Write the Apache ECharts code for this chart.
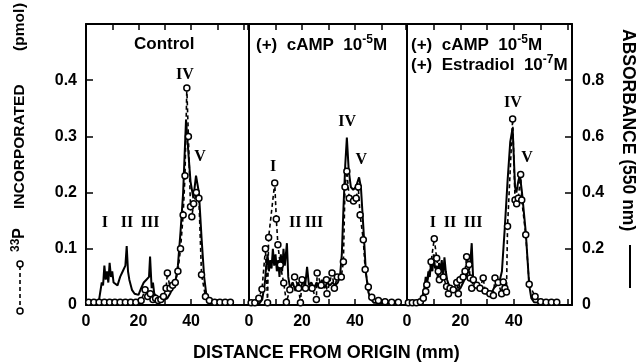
<!DOCTYPE html>
<html>
<head>
<meta charset="utf-8">
<script src="https://cdn.jsdelivr.net/npm/echarts@6/dist/echarts.min.js"></script>
<style>html,body{margin:0;padding:0;background:#fff}#c{width:636px;height:364px}</style>
</head>
<body>
<div id="c"></div>
<script>
// ---- data: [distance (mm), value] ----
// 33P incorporated (pmol), dashed with circles
const p33Control = [[1,0.005],[3,0.005],[5,0.005],[7,0.005],[9,0.005],[11,0.005],[13,0.005],[15,0.005],[17,0.005],[19,0.005],[21,0.008],[22.5,0.027],[23.5,0.015],[24.5,0.02],[25.5,0.01],[26.5,0.012],[27.5,0.008],[28.5,0.01],[29.5,0.015],[30.5,0.03],[31,0.057],[32,0.03],[33,0.035],[34,0.04],[35,0.06],[36,0.1],[37,0.16],[37.7,0.23],[38.4,0.386],[39,0.3],[39.8,0.175],[40.3,0.157],[41,0.18],[42,0.2],[43,0.19],[44,0.054],[45.5,0.015],[47,0.008],[49,0.005],[51,0.005],[53,0.005],[55,0.005]];
const p33Camp = [[0.8,0.004],[2.2,0.004],[3.7,0.012],[4.9,0.028],[6.2,0.1],[7.0,0.004],[7.4,0.12],[9.7,0.217],[10.3,0.153],[10.9,0.107],[11.8,0.071],[13.1,0.039],[14.1,0.005],[15.4,0.027],[17.2,0.05],[18.7,0.03],[19.4,0.004],[20,0.045],[21.3,0.03],[23.8,0.03],[25.4,0.01],[25.7,0.057],[27.2,0.035],[29.2,0.045],[29.4,0.02],[31.3,0.057],[32.2,0.03],[33.3,0.05],[34.8,0.05],[35.6,0.077],[36.2,0.21],[36.9,0.238],[37.8,0.19],[39.4,0.185],[40.4,0.19],[41.2,0.21],[41.9,0.16],[43.1,0.116],[43.8,0.063],[45,0.032],[46.3,0.014],[48.8,0.008],[51.3,0.006],[53.8,0.005],[56.3,0.005]];
const p33CampE2 = [[0.5,0.004],[2,0.004],[3.5,0.004],[5,0.006],[6.1,0.012],[7.0,0.024],[7.4,0.036],[9.0,0.077],[10.2,0.118],[11.1,0.083],[11.7,0.06],[12.1,0.045],[13.6,0.05],[14.8,0.033],[15.5,0.02],[16.1,0.03],[17.3,0.027],[18.6,0.04],[19.2,0.02],[19.8,0.045],[21,0.05],[21.7,0.06],[22.3,0.086],[23.2,0.072],[23.6,0.048],[24.2,0.03],[24.8,0.045],[26.1,0.035],[27.3,0.03],[28.5,0.048],[29.2,0.025],[31,0.02],[32.3,0.017],[32.9,0.048],[34.1,0.04],[35.4,0.02],[36,0.041],[36.6,0.03],[37.2,0.023],[37.6,0.14],[39.5,0.331],[40.4,0.187],[41,0.18],[41.6,0.19],[42.5,0.232],[42.9,0.187],[44.4,0.125],[45.7,0.037],[47.9,0.015],[50,0.006],[52,0.005],[54,0.005],[56,0.005]];
// absorbance (550 nm), solid line
const absControl = [[0,0.006],[4,0.006],[5,0.02],[6,0.08],[6.5,0.07],[7,0.14],[7.5,0.09],[8,0.12],[8.5,0.08],[9,0.15],[9.5,0.1],[10,0.12],[10.5,0.08],[11,0.08],[12,0.07],[13,0.1],[14,0.12],[15,0.14],[15.5,0.21],[16,0.12],[16.5,0.09],[17.5,0.054],[18.5,0.04],[20,0.036],[21,0.06],[22,0.08],[23,0.09],[23.5,0.09],[24,0.1],[24.4,0.172],[25,0.06],[25.5,0.08],[26,0.04],[27,0.03],[28,0.02],[30,0.02],[31,0.024],[32,0.04],[33,0.06],[34,0.08],[35,0.14],[36,0.26],[37,0.4],[37.5,0.52],[38.1,0.66],[39,0.54],[39.8,0.44],[40.9,0.38],[41.9,0.46],[43,0.4],[44,0.24],[45,0.1],[46,0.024],[47,0.008],[56,0.006]];
const absCamp = [[0,0.006],[4,0.006],[5,0.02],[6,0.08],[6.5,0.14],[7,0.18],[7.5,0.12],[8,0.16],[8.5,0.13],[9,0.2],[9.5,0.14],[10,0.18],[10.5,0.12],[11,0.16],[11.5,0.1],[12,0.18],[12.5,0.12],[13,0.2],[13.5,0.14],[14.3,0.22],[14.8,0.1],[15.5,0.06],[16.5,0.08],[17.5,0.05],[18.5,0.08],[19.5,0.06],[20.5,0.09],[21.2,0.07],[21.9,0.136],[22.6,0.07],[23.5,0.08],[24.5,0.06],[25.5,0.08],[26.5,0.06],[27.5,0.09],[28.5,0.06],[29.5,0.08],[30.5,0.07],[31.5,0.08],[32.5,0.07],[33.5,0.08],[34.3,0.1],[35,0.18],[35.6,0.34],[36.3,0.5],[36.9,0.596],[37.6,0.48],[38.4,0.42],[39.3,0.41],[40.3,0.42],[41.5,0.454],[42.2,0.42],[43.1,0.28],[44.1,0.114],[45,0.046],[46,0.02],[47,0.008],[56,0.006]];
const absCampE2 = [[0,0.006],[5,0.006],[5.5,0.02],[6.5,0.06],[7,0.1],[7.5,0.08],[8,0.12],[8.5,0.1],[9,0.15],[9.5,0.12],[10,0.18],[10.5,0.13],[11,0.14],[11.5,0.1],[12,0.15],[12.5,0.12],[13,0.16],[13.5,0.1],[14,0.17],[14.5,0.12],[15,0.09],[16,0.06],[17,0.05],[18,0.06],[19,0.05],[20,0.06],[21,0.08],[22,0.1],[23,0.12],[23.6,0.14],[24.2,0.22],[24.7,0.1],[25.5,0.08],[26.5,0.06],[27.5,0.05],[28.5,0.06],[29.5,0.04],[30.5,0.05],[31.5,0.04],[32.5,0.06],[33.5,0.07],[34.5,0.08],[35.5,0.12],[36.6,0.28],[37.6,0.44],[38.6,0.58],[39.5,0.63],[40.4,0.42],[40.9,0.4],[41.6,0.44],[42.2,0.464],[43,0.4],[44.4,0.26],[45.7,0.07],[46.5,0.024],[47.5,0.01],[56,0.006]];
// peak labels: [name, distance, 33P value]
const peaksControl = [['I',7.2,0.146],['II',15.6,0.146],['III',24.4,0.146],['IV',37.7,0.41],['V',43.4,0.264]];
const peaksCamp = [['I',9.1,0.246],['II',17.4,0.146],['III',24.5,0.146],['IV',37,0.325],['V',42.3,0.259]];
const peaksCampE2 = [['I',9.7,0.146],['II',16.1,0.146],['III',24.7,0.146],['IV',39.6,0.36],['V',44.9,0.262]];
const xTicks = [0,20,40];
const leftTicks = [0,0.1,0.2,0.3,0.4];
const rightTicks = [0,0.2,0.4,0.6,0.8];

const panels = [
  {left:86, width:162, max:61.7, p33:p33Control, abs:absControl, peaks:peaksControl},
  {left:249, width:157, max:59.2, p33:p33Camp, abs:absCamp, peaks:peaksCamp},
  {left:407, width:165, max:61.7, p33:p33CampE2, abs:absCampE2, peaks:peaksCampE2}
];
const FONT = "'Liberation Sans', Arial, sans-serif";
const SERIF = "'Liberation Serif', 'Times New Roman', serif";
const fmtNum = v => { const r = Math.round(v*10)/10; return r === 0 ? '0' : r.toFixed(1); };

const grid = [], xAxis = [], yAxis = [], series = [];
panels.forEach((p, i) => {
  grid.push({left:p.left, width:p.width, top:24, height:281});
  const axLine = {show:true, onZero:false, lineStyle:{color:'#000', width:2}};
  xAxis.push({type:'value', gridIndex:i, position:'bottom', min:0, max:p.max, interval:10,
    axisLine:axLine, splitLine:{show:false},
    axisTick:{show:true, inside:true, length:6, lineStyle:{color:'#000', width:1.5}},
    axisLabel:{show:true, margin:9, color:'#000', fontFamily:FONT, fontWeight:'bold', fontSize:16,
      formatter: v => xTicks.indexOf(Math.round(v)) >= 0 ? String(Math.round(v)) : '', showMaxLabel:false}});
  xAxis.push({type:'value', gridIndex:i, position:'top', min:0, max:p.max, interval:10,
    axisLine:axLine, splitLine:{show:false},
    axisTick:{show:true, inside:true, length:6, lineStyle:{color:'#000', width:1.5}},
    axisLabel:{show:false}});
  yAxis.push({type:'value', gridIndex:i, position:'left', min:0, max:0.5, interval:0.1,
    axisLine:axLine, splitLine:{show:false},
    axisTick:{show:i===0, inside:true, length:7, lineStyle:{color:'#000', width:1.5}},
    axisLabel:{show:i===0, margin:9, color:'#000', fontFamily:FONT, fontWeight:'bold', fontSize:16,
      formatter: v => leftTicks.some(t => Math.abs(t-v) < 1e-6) ? fmtNum(v) : ''}});
  yAxis.push({type:'value', gridIndex:i, position:'right', min:0, max:1.0, interval:0.2,
    show:i===2, axisLine:axLine, splitLine:{show:false},
    axisTick:{show:true, inside:true, length:7, lineStyle:{color:'#000', width:1.5}},
    axisLabel:{show:true, margin:10, color:'#000', fontFamily:FONT, fontWeight:'bold', fontSize:16,
      formatter: v => rightTicks.some(t => Math.abs(t-v) < 1e-6) ? fmtNum(v) : ''}});
  series.push({type:'line', name:'abs'+i, xAxisIndex:2*i, yAxisIndex:2*i+1, data:p.abs,
    showSymbol:false, symbol:'none', clip:false, z:2,
    lineStyle:{color:'#000', width:2}});
  series.push({type:'line', name:'p33'+i, xAxisIndex:2*i, yAxisIndex:2*i, data:p.p33,
    symbol:'circle', symbolSize:6, clip:false, z:3,
    lineStyle:{color:'#000', width:1.6, type:[4,3]},
    itemStyle:{color:'#fff', borderColor:'#000', borderWidth:1.5},
    markPoint:{symbol:'rect', symbolSize:1, itemStyle:{color:'rgba(0,0,0,0)'},
      label:{show:true, position:'inside', formatter:'{b}', color:'#000', fontFamily:SERIF, fontWeight:'bold', fontSize:16},
      data:p.peaks.map(k => ({name:k[0], coord:[k[1], k[2]]}))}});
});

const supRich = {
  a:{fontFamily:FONT, fontWeight:'bold', fontSize:17, color:'#000', lineHeight:22},
  s:{fontFamily:FONT, fontWeight:'bold', fontSize:12, color:'#000', verticalAlign:'top', lineHeight:22}
};
const vText = (x, y, text, size) => ({type:'text', x, y, rotation:Math.PI/2,
  style:{text, align:'left', verticalAlign:'middle', fontFamily:FONT, fontWeight:'bold', fontSize:size, fill:'#000'}});
const graphic = [
  {type:'text', left:134, top:36, style:{text:'Control', fontFamily:FONT, fontWeight:'bold', fontSize:17, fill:'#000'}},
  {type:'text', left:256, top:34, style:{text:'{a|(+)  cAMP  10}{s|-5}{a|M}', rich:supRich}},
  {type:'text', left:411, top:34, style:{text:'{a|(+)  cAMP  10}{s|-5}{a|M}', rich:supRich}},
  {type:'text', left:411, top:54, style:{text:'{a|(+)  Estradiol  10}{s|-7}{a|M}', rich:supRich}},
  {type:'text', left:193, top:344, style:{text:'DISTANCE FROM ORIGIN (mm)', fontFamily:FONT, fontWeight:'bold', fontSize:18, fill:'#000'}},
  {type:'text', x:20, y:252, rotation:Math.PI/2, style:{text:'{s|33}{a|P}', align:'left', verticalAlign:'middle',
    rich:{a:{fontFamily:FONT, fontWeight:'bold', fontSize:16, color:'#000', lineHeight:20},
          s:{fontFamily:FONT, fontWeight:'bold', fontSize:12, color:'#000', verticalAlign:'top', lineHeight:20}}}},
  vText(20, 209, 'INCORPORATED', 15.5),
  vText(20, 51, '(pmol', 15.5),
  vText(20, 8, ')', 15.5),
  {type:'text', x:628, y:29, rotation:-Math.PI/2, style:{text:'ABSORBANCE (550 nm)', align:'left', verticalAlign:'middle',
    fontFamily:FONT, fontWeight:'bold', fontSize:17.5, fill:'#000'}},
  {type:'line', shape:{x1:20, y1:266, x2:20, y2:309}, style:{stroke:'#000', lineWidth:1.6, lineDash:[4,3]}},
  {type:'circle', shape:{cx:20, cy:264, r:3}, style:{fill:'#fff', stroke:'#000', lineWidth:1.5}},
  {type:'circle', shape:{cx:20, cy:311, r:3}, style:{fill:'#fff', stroke:'#000', lineWidth:1.5}},
  {type:'line', shape:{x1:630, y1:245, x2:630, y2:288}, style:{stroke:'#000', lineWidth:2}}
];

const chart = echarts.init(document.getElementById('c'), null, {renderer:'canvas'});
chart.setOption({backgroundColor:'#fff', animation:false, grid, xAxis, yAxis, series, graphic});
</script>
</body>
</html>
